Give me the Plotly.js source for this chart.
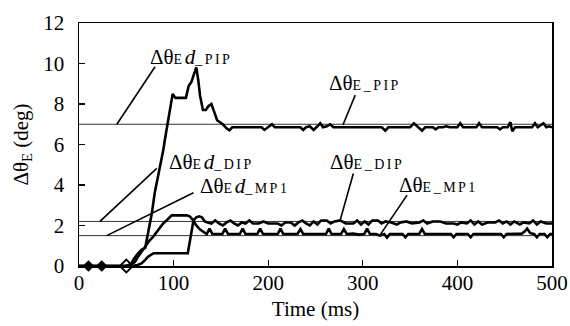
<!DOCTYPE html>
<html>
<head>
<meta charset="utf-8">
<script src="https://cdn.plot.ly/plotly-3.0.1.min.js"></script>
<style>html,body{margin:0;padding:0;background:#fff;}#chart{width:570px;height:326px;}</style>
</head>
<body>
<div id="chart"></div>
<script>
// ---- data ----
const xTicks = [0, 100, 200, 300, 400, 500];
const yTicks = [0, 2, 4, 6, 8, 10, 12];

// desired (reference) values, deg
const refPIP = 7.0;
const refDIP = 2.2;
const refMP1 = 1.5;

// Δθ_E PIP
const pipT = [0,45,50,55,58,62,66,70,73,77,80,83,86,89,91,93,96,99,102,113,116,119,121,124,126,128,131,134,137,140,143,146,149,152,156,159,162,
  170,190,193,196,200,204,207,230,234,237,240,244,248,252,255,258,262,265.5,269,320,323.8,327,350,354,358,362.6,366,374,377,380,385,388,392,400,403,406,420,423,426,442,445,448,453,456,458,461,479,482,485,488,491,494,497,500];
const pipV = [0,0,0,0.1,0.35,0.6,0.8,0.9,1.6,2.6,3.6,4.3,4.9,5.7,6.3,6.9,7.8,8.5,8.3,8.3,8.9,9.1,9.4,9.8,9.2,8.4,7.7,7.7,7.9,8.0,7.6,7.2,7.1,7.0,6.8,6.7,6.85,
  6.85,6.85,6.85,6.72,6.85,7.0,6.85,6.85,6.85,6.72,6.85,6.9,6.72,6.9,7.05,6.85,6.9,7.0,6.85,6.85,6.68,6.85,6.85,7.05,6.9,6.68,6.85,6.85,6.75,6.85,6.85,6.9,6.85,6.85,7.05,6.85,6.85,7.05,6.85,6.85,6.75,6.85,6.85,7.1,6.65,6.85,6.85,7.05,6.85,6.95,7.05,6.85,6.9,6.85];

// Δθ_E DIP
const dipT = [0,56,62,66,70,73,76,79,115,117,119,121,124,127,130,133,136,
  140,144,148,152,156,160,164,168,172,176,180,184,190,195,200,210,214,218,224,228,232,236,240,244,248,252,256,262,266,270,276,282,290,294,298,302,306,310,316,320,324,330,336,340,346,352,360,364,368,374,382,388,396,400,404,410,414,418,422,426,432,440,444,448,452,456,460,466,470,476,480,484,488,494,500];
const dipV = [0,0,0.05,0.13,0.3,0.46,0.55,0.63,0.63,1.2,1.9,2.25,2.4,2.45,2.4,2.2,2.15,
  2.1,2.25,2.1,2.0,2.15,2.25,2.1,2.0,2.15,2.1,2.25,2.1,2.1,2.2,2.1,2.1,2.0,2.15,2.15,2.0,2.15,2.25,2.1,2.0,2.2,2.05,2.25,2.25,2.1,2.2,2.25,2.1,2.1,2.25,2.05,2.2,2.05,2.25,2.25,2.1,2.2,2.15,2.05,2.15,2.2,2.1,2.15,2.25,2.1,2.2,2.2,2.1,2.1,2.05,2.15,2.1,2.25,2.05,2.2,2.05,2.15,2.15,2.25,2.1,2.2,2.05,2.2,2.05,2.15,2.1,2.25,2.05,2.2,2.1,2.1];

// Δθ_E MP1
const mp1T = [0,50,54,59,63,66,69,72,75,78,80,82,86,89,93,96,98,114,117,120,124,128,132,
  135,138,141,151.5,154.5,157.5,170,173,176,188.5,191.5,194.5,210,213,216,231,234,237,261,264,267,277,280,283,290,296,301.5,304.5,307.5,314,318,322.6,325.6,328.6,342,345,348,359.6,362.6,365.6,393,396,399,411,414,417,446,449,452,468,471,473.7,477,481,484,487,492,495,498,500];
const mp1V = [0,0,0.05,0.2,0.5,0.7,0.85,1.05,1.28,1.42,1.55,1.7,1.94,2.1,2.27,2.42,2.5,2.5,2.45,2.3,2.0,1.8,1.65,
  1.58,1.85,1.58,1.58,1.85,1.58,1.58,1.85,1.58,1.58,1.85,1.58,1.58,1.85,1.58,1.58,1.82,1.58,1.58,1.85,1.58,1.58,1.82,1.58,1.6,1.55,1.58,1.85,1.58,1.58,1.5,1.58,1.4,1.58,1.58,1.42,1.58,1.58,1.82,1.58,1.58,1.42,1.58,1.58,1.42,1.58,1.58,1.42,1.58,1.6,1.7,1.85,1.62,1.58,1.42,1.58,1.58,1.42,1.58,1.58];

// diamond markers at start
const markT = [10, 24];
const markV = [0, 0];
const openMarkT = [50];
const openMarkV = [0];

// ---- labels ----
const SERIF = "Liberation Serif";
const sub = s => "<span style='font-size:14px;letter-spacing:2.5px'>" + s + "</span>";
const lblEdPIP = "Δθ" + sub("E") + "<i>d</i>" + sub("_PIP");
const lblEPIP  = "Δθ" + sub("E_PIP");
const lblEdDIP = "Δθ" + sub("E") + "<i>d</i>" + sub("_DIP");
const lblEdMP1 = "Δθ" + sub("E") + "<i>d</i>" + sub("_MP1");
const lblEDIP  = "Δθ" + sub("E_DIP");
const lblEMP1  = "Δθ" + sub("E_MP1");

const thick = {color: "#000", width: 2.6};
const refLine = {color: "#333", width: 1};

const traces = [
  {x: [0, 500], y: [refPIP, refPIP], mode: "lines", line: refLine, hoverinfo: "skip"},
  {x: [0, 500], y: [refDIP, refDIP], mode: "lines", line: refLine, hoverinfo: "skip"},
  {x: [0, 500], y: [refMP1, refMP1], mode: "lines", line: refLine, hoverinfo: "skip"},
  {x: pipT, y: pipV, mode: "lines", line: thick},
  {x: dipT, y: dipV, mode: "lines", line: thick},
  {x: mp1T, y: mp1V, mode: "lines", line: thick},
  {x: markT, y: markV, mode: "markers", cliponaxis: false,
   marker: {symbol: "diamond", size: 9, color: "#000"}},
  {x: openMarkT, y: openMarkV, mode: "markers", cliponaxis: false,
   marker: {symbol: "diamond-open", size: 10, color: "#000", line: {width: 1.8}}}
];

const ptr = (x0, y0, x1, y1) => ({type: "line", xref: "x", yref: "y", x0, y0, x1, y1,
  line: {color: "#000", width: 1.6}});

const ann = (text, x, y) => ({text, x, y, xref: "x", yref: "y", xanchor: "left", yanchor: "middle",
  showarrow: false, font: {family: SERIF, size: 21, color: "#000"}});

const layout = {
  width: 570, height: 326,
  margin: {l: 79, r: 18, t: 23, b: 60},
  paper_bgcolor: "#fff", plot_bgcolor: "#fff",
  showlegend: false,
  font: {family: SERIF, size: 20, color: "#000"},
  xaxis: {
    range: [0, 500], tickvals: xTicks, ticktext: xTicks.map(String),
    ticks: "inside", ticklen: 6, tickwidth: 1.2, tickcolor: "#000",
    showline: true, linecolor: "#000", linewidth: 1.5, mirror: true,
    showgrid: false, zeroline: false, ticklabelstandoff: -3,
    tickfont: {family: SERIF, size: 21, color: "#000"},
    title: {text: "Time (ms)", font: {family: SERIF, size: 21, color: "#000"}, standoff: 7}
  },
  yaxis: {
    range: [0, 12], tickvals: yTicks, ticktext: yTicks.map(String),
    ticks: "inside", ticklen: 6, tickwidth: 1.2, tickcolor: "#000",
    showline: true, linecolor: "#000", linewidth: 1.5, mirror: true,
    showgrid: false, zeroline: false, ticklabelstandoff: 9,
    tickfont: {family: SERIF, size: 21, color: "#000"},
    title: {text: "Δθ<sub>E</sub> (deg)", font: {family: SERIF, size: 21, color: "#000"}, standoff: 9}
  },
  shapes: [
    ptr(80.4, 9.84, 40, 7.0),
    ptr(292, 8.44, 279, 6.96),
    ptr(82.2, 4.82, 22.2, 2.2),
    ptr(121, 3.62, 29.3, 1.5),
    ptr(290, 4.57, 276, 2.25),
    ptr(346.8, 3.5, 318.5, 1.55)
  ],
  annotations: [
    ann(lblEdPIP, 73, 10.3),
    ann(lblEPIP, 262, 9.04),
    ann(lblEdDIP, 93, 5.14),
    ann(lblEdMP1, 126, 3.95),
    ann(lblEDIP, 263.5, 5.14),
    ann(lblEMP1, 336.5, 4.0)
  ]
};

Plotly.newPlot("chart", traces, layout, {displayModeBar: false, staticPlot: true});
</script>
</body>
</html>
